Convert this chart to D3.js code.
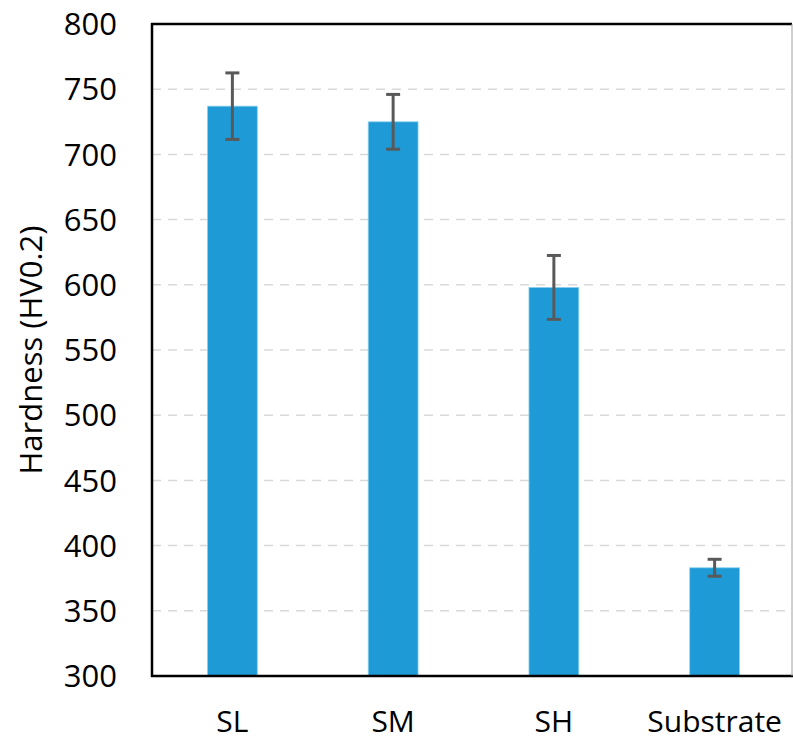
<!DOCTYPE html>
<html>
<head>
<meta charset="utf-8">
<script src="https://cdn.jsdelivr.net/npm/d3@7"></script>
<style>
  body { margin: 0; background: #fff; }
  svg text { font-family: "Open Sans", sans-serif; fill: #000; }
</style>
</head>
<body>
<svg id="chart" width="793" height="742"></svg>
<script>
// Data
const categories = ['SL', 'SM', 'SH', 'Substrate'];
const hardness = [737, 725, 598, 383];
const errors = [25.5, 21, 24.5, 6.5];
const yTicks = [300, 350, 400, 450, 500, 550, 600, 650, 700, 750, 800];

const width = 793, height = 742;
const margin = { top: 24, right: 1, bottom: 66, left: 152 };

const svg = d3.select('#chart');

// band range runs a little past the frame so the bars sit where the original has them
const x = d3.scaleBand()
    .domain(categories)
    .range([margin.left, 795])
    .paddingInner(0.69)
    .paddingOuter(0.345);

const y = d3.scaleLinear()
    .domain([300, 800])
    .range([height - margin.bottom, margin.top]);

// Dashed gridlines
svg.append('g')
    .selectAll('line')
    .data(yTicks.slice(1, -1))
    .enter()
    .append('line')
    .attr('x1', margin.left)
    .attr('x2', width - margin.right)
    .attr('y1', d => y(d))
    .attr('y2', d => y(d))
    .attr('stroke', '#d9d9d9')
    .attr('stroke-width', 1.5)
    .attr('stroke-dasharray', '9,7');

// Bars
svg.append('g')
    .selectAll('rect')
    .data(categories)
    .enter()
    .append('rect')
    .attr('x', d => x(d))
    .attr('y', (d, i) => y(hardness[i]))
    .attr('width', x.bandwidth())
    .attr('height', (d, i) => y(300) - y(hardness[i]))
    .attr('fill', '#1e9bd7')
    .attr('stroke', '#8fd0ee')
    .attr('stroke-width', 0.8);

// Error bars
const errG = svg.append('g')
    .attr('stroke', '#595959')
    .attr('stroke-width', 3);

categories.forEach((c, i) => {
    const cx = x(c) + x.bandwidth() / 2;
    const top = y(hardness[i] + errors[i]);
    const bot = y(hardness[i] - errors[i]);
    errG.append('line').attr('x1', cx).attr('x2', cx).attr('y1', top).attr('y2', bot);
    errG.append('line').attr('x1', cx - 7).attr('x2', cx + 7).attr('y1', top).attr('y2', top);
    errG.append('line').attr('x1', cx - 7).attr('x2', cx + 7).attr('y1', bot).attr('y2', bot);
});

// Frame: left, top and bottom black, right thin grey
svg.append('line')
    .attr('x1', margin.left).attr('x2', margin.left)
    .attr('y1', margin.top - 1).attr('y2', y(300) + 1)
    .attr('stroke', '#000').attr('stroke-width', 2.5);
svg.append('line')
    .attr('x1', margin.left - 1).attr('x2', width - margin.right)
    .attr('y1', margin.top).attr('y2', margin.top)
    .attr('stroke', '#000').attr('stroke-width', 2.5);
svg.append('line')
    .attr('x1', margin.left - 1).attr('x2', width)
    .attr('y1', y(300)).attr('y2', y(300))
    .attr('stroke', '#000').attr('stroke-width', 2.5);
svg.append('line')
    .attr('x1', width - 1).attr('x2', width - 1)
    .attr('y1', margin.top).attr('y2', y(300))
    .attr('stroke', '#a0a0a0').attr('stroke-width', 1);

// Y tick labels
svg.append('g')
    .selectAll('text')
    .data(yTicks)
    .enter()
    .append('text')
    .attr('x', 117)
    .attr('y', d => y(d))
    .attr('dy', '0.36em')
    .attr('text-anchor', 'end')
    .style('font-size', '31px')
    .text(d => d);

// X category labels
svg.append('g')
    .selectAll('text')
    .data(categories)
    .enter()
    .append('text')
    .attr('x', d => x(d) + x.bandwidth() / 2)
    .attr('y', 732)
    .attr('text-anchor', 'middle')
    .style('font-size', '30px')
    .text(d => d);

// Y axis title
svg.append('text')
    .attr('transform', 'translate(42,350) rotate(-90)')
    .attr('text-anchor', 'middle')
    .style('font-size', '31px')
    .text('Hardness (HV0.2)');
</script>
</body>
</html>
